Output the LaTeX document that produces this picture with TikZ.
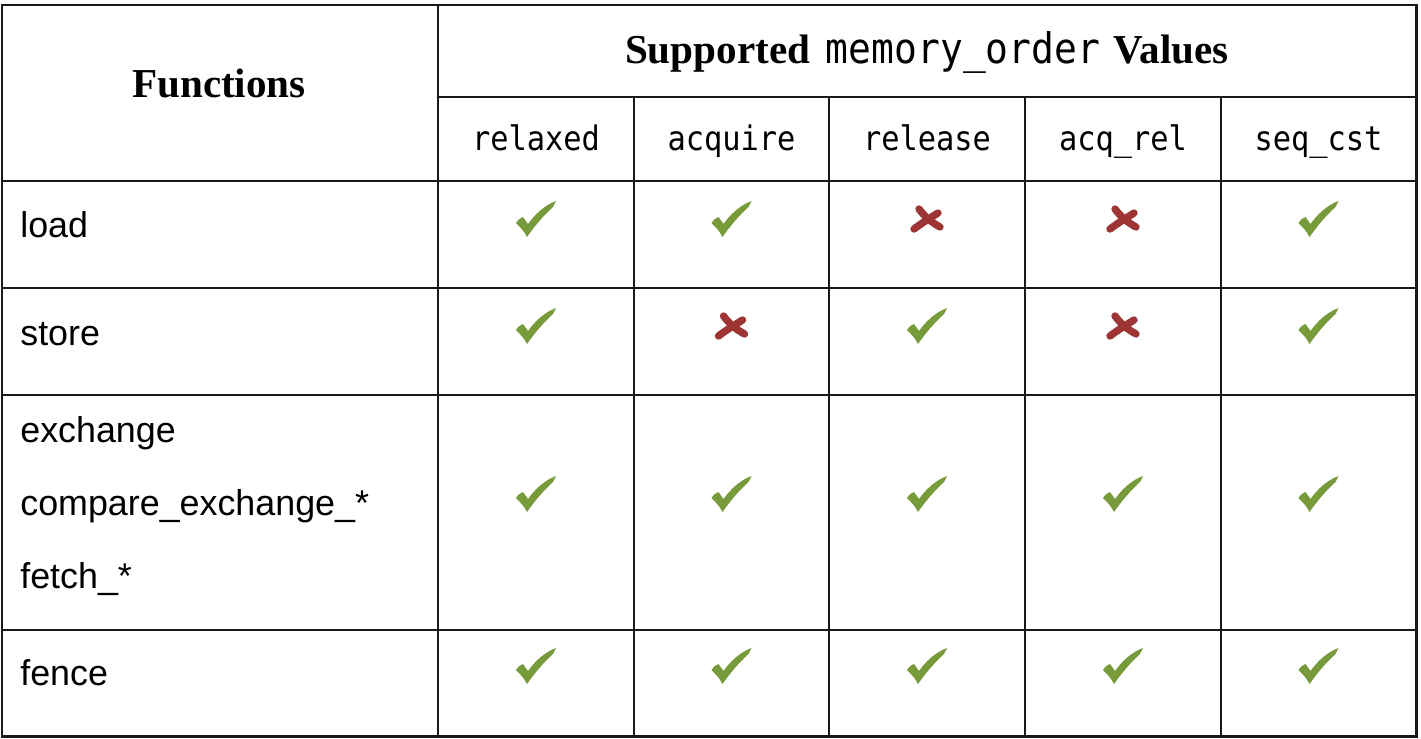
\documentclass[tikz,border=0pt]{standalone}
\usepackage{fontspec}
\setmainfont{Liberation Sans}
\newfontfamily\headfont{Liberation Serif}
\newfontfamily\codefont[FakeStretch=0.9]{DejaVu Sans Mono}
\usetikzlibrary{positioning}
\definecolor{okgreen}{HTML}{779A3A}
\definecolor{nored}{HTML}{9E3535}
\tikzset{
  grid line/.style={line width=1.2pt, black!90},
  frame line/.style={line width=1.7pt, black!90},
  head/.style={anchor=base, inner sep=0pt, font=\headfont\bfseries\fontsize{23.4}{28}\selectfont},
  colhead/.style={anchor=base, inner sep=0pt, font=\codefont\fontsize{19.2}{23}\selectfont},
  fname/.style={anchor=base west, inner sep=0pt, font=\fontsize{20.4}{24}\selectfont},
  tick/.pic={\fill[okgreen] (-20,4) .. controls (-17,0) .. (-13,-2) -- (-8,5)
      .. controls (-1,-5) and (9,-14) .. (20,-18) -- (17,-12)
      .. controls (7,-3) and (-2,8) .. (-9,18) .. controls (-12,12) and (-16,8) .. (-20,4) -- cycle;},
  cross/.pic={\draw[nored, line width=4.2pt, line cap=round]
      (-8,-10) .. controls (-2,-2) and (4,3) .. (13,8)
      (11,-6) .. controls (3,-1) and (-5,4) .. (-13,10);}
}
\begin{document}
\begin{tikzpicture}[x=0.02cm, y=-0.02cm]
  \useasboundingbox (0,0) rectangle (1421,738);
  % table grid
  \draw[frame line] (2,5) rectangle (1416,736);
  \draw[grid line] (438,5) -- (438,736);
  \draw[grid line] (438,97) -- (1416,97);
  \foreach \y in {181,288,395,630} \draw[grid line] (2,\y) -- (1416,\y);
  \foreach \x in {634,829,1025,1221} \draw[grid line] (\x,97) -- (\x,736);
  % headings
  \node[head] (functions) at (219,97) {Functions};
  \node[head] (values) at (927,63) {Supported\hspace{9pt}{\codefont\mdseries\fontsize{24}{28}\selectfont memory\_order}\hspace{2pt} Values};
  \node[colhead] (relaxed) at (536,150) {relaxed};
  \node[colhead] (acquire) at (731.5,150) {acquire};
  \node[colhead] (release) at (927,150) {release};
  \node[colhead] (acqrel) at (1123,150) {acq\_rel};
  \node[colhead] (seqcst) at (1318.5,150) {seq\_cst};
  % function names
  \node[fname] (load) at (20,237) {load};
  \node[fname] (store) at (20,345) {store};
  \node[fname] (exchange) at (20,442) {exchange};
  \node[fname] (cmpxchg) at (20,515) {compare\_exchange\_*};
  \node[fname] (fetch) at (20,588) {fetch\_*};
  \node[fname] (fence) at (20,685) {fence};
  % supported orders
  \foreach \x/\m in {536/tick,731.5/tick,927/cross,1123/cross,1318.5/tick}
    \pic at (\x,219) {\m};
  \foreach \x/\m in {536/tick,731.5/cross,927/tick,1123/cross,1318.5/tick}
    \pic at (\x,326) {\m};
  \foreach \x in {536,731.5,927,1123,1318.5}
    \pic at (\x,494) {tick};
  \foreach \x in {536,731.5,927,1123,1318.5}
    \pic at (\x,666) {tick};
\end{tikzpicture}
\end{document}
